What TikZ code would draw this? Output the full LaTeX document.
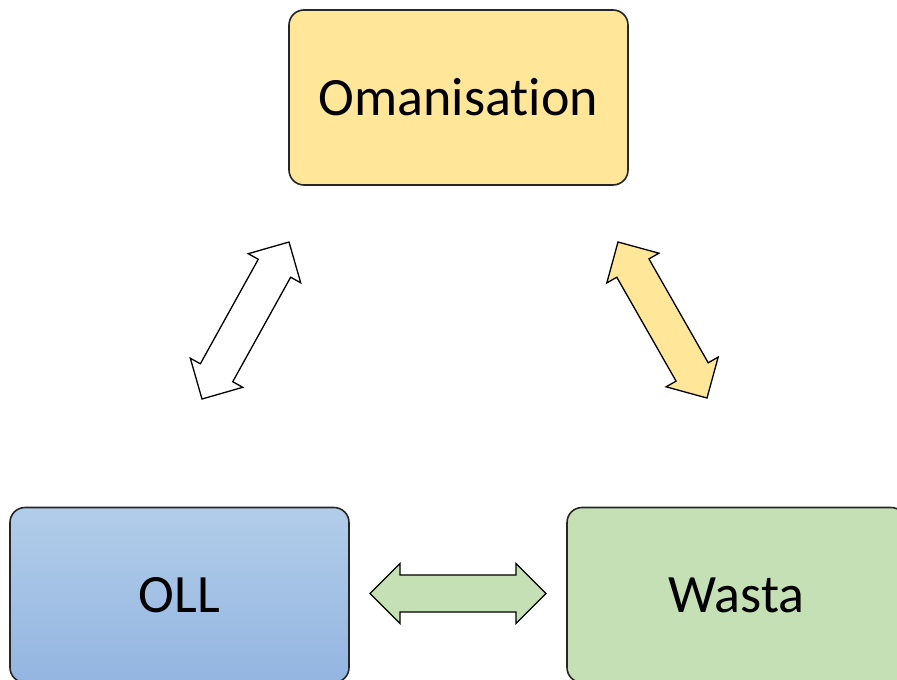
\documentclass[tikz,border=0pt]{standalone}
\usepackage{fontspec}
\setmainfont[Ligatures=NoCommon]{Carlito}
\usetikzlibrary{calc}

\definecolor{boxyellow}{HTML}{FFE699}
\definecolor{boxgreen}{HTML}{C5E0B4}
\definecolor{blueTop}{HTML}{B2CDEA}
\definecolor{blueBottom}{HTML}{93B5E0}

% double-headed block arrow between two named tip coordinates
\newcommand{\twowayblock}[3]{%
  \path ($(#1)!30pt!(#2)$) coordinate (ha) ($(#2)!30pt!(#1)$) coordinate (hb);
  \draw[blockarrow, fill=#3]
    (#1) -- ($(ha)!30pt!90:(#2)$) -- ($(ha)!18.5pt!90:(#2)$)
    -- ($(hb)!18.5pt!-90:(#1)$) -- ($(hb)!30pt!-90:(#1)$)
    -- (#2) -- ($(hb)!30pt!90:(#1)$) -- ($(hb)!18.5pt!90:(#1)$)
    -- ($(ha)!18.5pt!-90:(#2)$) -- ($(ha)!30pt!-90:(#2)$) -- cycle;}

\tikzset{
  topic/.style={draw=black!85, line width=1.6pt, rounded corners=15pt,
    minimum width=339pt, minimum height=175pt, inner sep=0pt,
    font=\fontsize{54}{60}\selectfont},
  blockarrow/.style={draw=black, line width=1.3pt, line join=miter},
}

\begin{document}
\begin{tikzpicture}[x=1pt, y=-1pt]
  \useasboundingbox (0,0) rectangle (897,680);

  % the three topic boxes
  \node[topic, fill=boxyellow] (oman) at (458.5,97.5) {Omanisation};
  \node[topic, top color=blueTop, bottom color=blueBottom] (oll) at (179.5,595) {OLL};
  \node[topic, fill=boxgreen] (wasta) at (736.5,595) {Wasta};

  % arrow tips
  \coordinate (lt) at (289,242);
  \coordinate (lb) at (202,399);
  \coordinate (rt) at (618,242);
  \coordinate (rb) at (707,398);
  \coordinate (bl) at (370,593.5);
  \coordinate (br) at (546,593.5);

  \twowayblock{lt}{lb}{white}
  \twowayblock{rt}{rb}{boxyellow}
  \twowayblock{bl}{br}{boxgreen}
\end{tikzpicture}
\end{document}
